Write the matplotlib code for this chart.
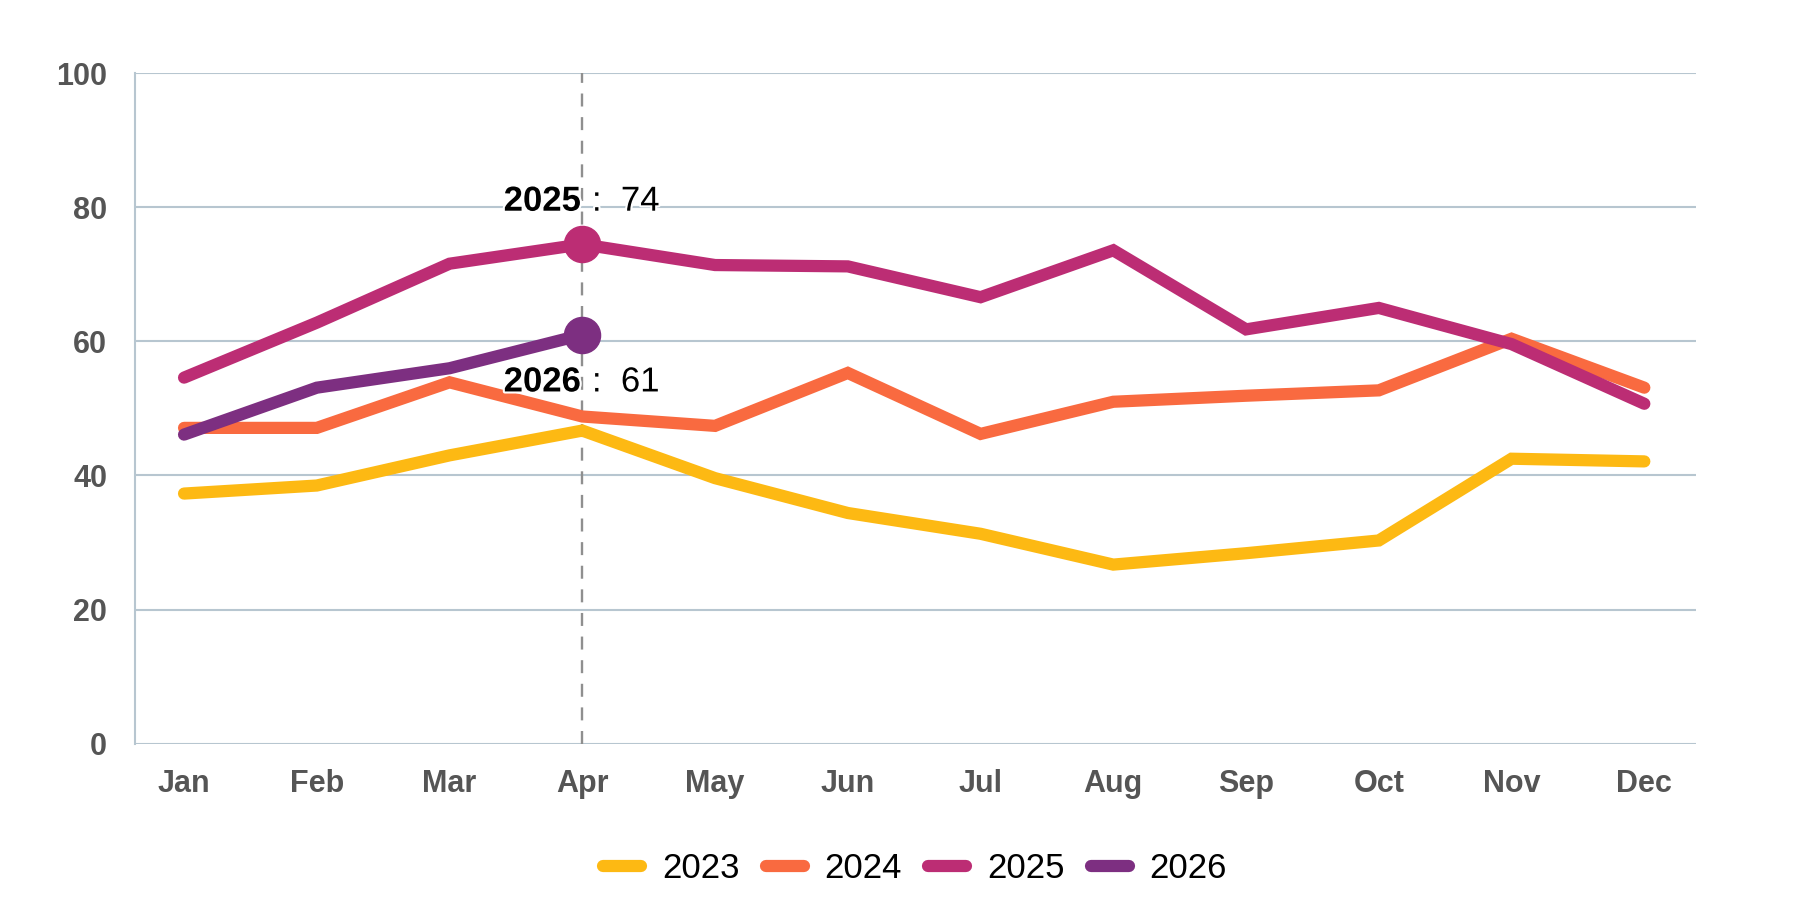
import matplotlib
matplotlib.use("Agg")
import matplotlib.pyplot as plt
import matplotlib.patheffects as pe

months = ["Jan", "Feb", "Mar", "Apr", "May", "Jun", "Jul", "Aug", "Sep", "Oct", "Nov", "Dec"]
years = ["2023", "2024", "2025", "2026"]
v2023 = [37.3, 38.5, 43.0, 46.7, 39.6, 34.4, 31.3, 26.7, 28.4, 30.3, 42.5, 42.1]
v2024 = [47.1, 47.1, 53.9, 48.8, 47.4, 55.3, 46.2, 51.0, 51.9, 52.7, 60.4, 53.1]
v2025 = [54.6, 62.8, 71.6, 74.5, 71.4, 71.2, 66.6, 73.6, 61.8, 65.0, 59.6, 50.7]
v2026 = [46.1, 53.1, 56.0, 61.0]
colors = ["#FDB913", "#F96A40", "#BC2D74", "#7D2F81"]
series = [v2023, v2024, v2025, v2026]
hover_idx = 3  # Apr

text_font = ["Liberation Sans", "DejaVu Sans"]

fig = plt.figure(figsize=(17.99, 9.24), dpi=100)
ax = fig.add_axes([0.075, 0.1953, 0.8678, 0.7253])

grid_c = "#B7C6D0"
for y in range(0, 101, 20):
    ax.axhline(y, color=grid_c, lw=1.5, zorder=1)
ax.axvline(hover_idx, color="#8F8F8F", lw=1.7, ls=(0, (5.5, 4.5)), zorder=2)

for name, vals, c in zip(years, series, colors):
    ax.plot(range(len(vals)), vals, color=c, lw=8.8, solid_capstyle="round",
            solid_joinstyle="miter", label=name, zorder=3)

# hover markers and labels
halo = [pe.withStroke(linewidth=3, foreground="white")]
for name, vals, c, dy in [("2025", v2025, colors[2], 31), ("2026", v2026, colors[3], -34)]:
    val = vals[hover_idx]
    ax.plot([hover_idx], [val], "o", ms=26, color=c, zorder=4)
    ax.annotate(name, (hover_idx, val), xytext=(-1, dy), textcoords="offset points",
                ha="right", va="center", fontsize=25, fontweight="bold",
                family=text_font, zorder=5, path_effects=halo)
    ax.annotate(" :  %d" % int(val), (hover_idx, val), xytext=(0, dy),
                textcoords="offset points", ha="left", va="center", fontsize=25,
                family=text_font, zorder=5, path_effects=halo)

ax.set_xlim(-0.37, 11.39)
ax.set_ylim(0, 100)
ax.set_xticks(range(12))
ax.set_xticklabels(months)
ax.set_yticks(range(0, 101, 20))
for s in ["top", "right", "bottom"]:
    ax.spines[s].set_visible(False)
ax.spines["left"].set_color(grid_c)
ax.spines["left"].set_linewidth(1.5)
ax.tick_params(length=0, labelsize=22, labelcolor="#555555")
ax.tick_params(axis="x", pad=18)
ax.tick_params(axis="y", pad=20)
for lab in ax.get_xticklabels() + ax.get_yticklabels():
    lab.set_fontweight("bold")
    lab.set_family(text_font)

leg = fig.legend(loc="center", bbox_to_anchor=(0.5086, 0.06), ncol=4, frameon=False,
                 prop={"family": text_font, "size": 25}, handlelength=1.1,
                 handletextpad=0.6, columnspacing=0.75)
for h in leg.get_lines():
    h.set_linewidth(8.8)

fig.savefig("out.png", dpi=100, facecolor="white")
